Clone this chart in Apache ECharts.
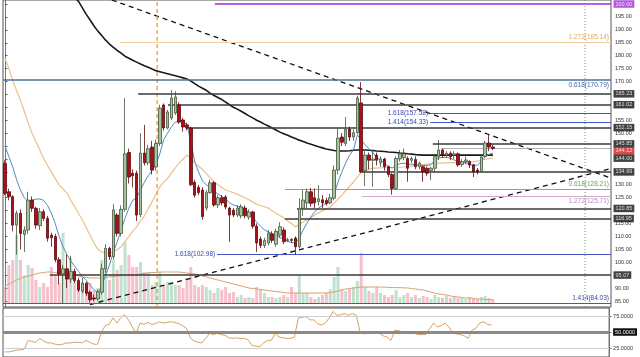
<!DOCTYPE html>
<html><head><meta charset="utf-8">
<script src="https://cdn.jsdelivr.net/npm/echarts/dist/echarts.min.js"></script>
<style>html,body{margin:0;padding:0;background:#fff}#c{width:640px;height:357px}</style>
</head><body><div id="c"></div>
<script>
// ---------- DATA ----------
const N = 157; // category slots (127 candles + empty space on the right)
// [open, high, low, close]
const ohlc = [
[138.3,139.5,126.0,126.7],[127.3,128.5,124.0,125.4],[125.4,126.0,112.0,114.4],[114.4,120.0,103.0,119.0],[119.0,120.5,105.0,111.2],
[110.8,114.0,104.0,112.5],[112.5,127.3,111.0,124.1],[124.1,125.5,119.5,120.9],[120.9,121.5,113.0,114.4],[114.2,121.0,112.5,119.6],
[119.6,120.5,116.0,117.0],[117.0,118.0,108.0,109.3],[110.5,111.5,106.0,109.5],[110.0,111.0,100.0,101.0],[101.0,102.0,91.5,95.5],
[95.5,99.0,84.0,97.5],[97.5,103.0,90.0,93.5],[93.5,102.5,92.0,96.5],[96.5,97.5,92.0,93.0],[93.0,94.0,88.5,89.3],
[88.8,94.0,88.0,91.9],[91.9,92.5,87.0,88.0],[88.4,89.0,84.5,85.5],[86.2,87.5,85.0,85.8],[85.8,89.5,85.2,88.6],
[88.4,99.5,87.5,97.5],[97.5,107.0,96.0,105.4],[105.4,106.0,101.0,102.2],[102.2,122.5,101.0,120.3],[118.3,119.0,110.0,111.2],
[111.2,122.0,110.0,120.5],[120.5,163.6,119.5,142.0],[142.5,144.0,130.5,133.0],[134.5,136.0,129.0,133.5],[134.5,135.5,116.0,118.3],
[118.5,150.0,117.5,142.3],[142.3,153.2,137.5,138.5],[138.5,145.5,137.5,144.0],[144.6,147.0,134.0,135.7],[136.9,147.5,135.5,146.0],
[146.0,161.0,145.0,159.7],[160.9,161.5,151.0,152.0],[152.0,159.0,151.5,158.2],[155.9,166.7,155.0,163.6],[157.8,166.2,157.0,164.0],
[160.9,162.0,153.5,154.3],[155.1,156.0,150.6,152.4],[153.2,154.0,151.0,152.0],[152.0,152.5,129.5,130.0],[131.0,132.0,125.0,126.0],
[129.0,130.0,126.0,127.0],[128.0,129.0,116.5,117.7],[121.0,128.0,120.0,127.0],[127.0,132.0,126.5,130.8],[130.8,131.5,121.5,122.2],
[122.2,126.0,121.0,125.0],[125.0,126.0,122.0,123.0],[125.3,126.0,120.5,121.4],[121.0,121.5,107.9,118.3],[120.2,121.0,117.5,118.3],
[118.3,122.0,117.5,121.0],[118.0,122.5,117.0,121.5],[121.0,122.0,117.0,118.0],[117.5,120.5,116.5,119.5],[119.5,120.0,113.0,114.0],
[114.0,115.0,104.0,107.5],[109.0,110.0,105.5,106.5],[106.5,109.5,105.5,108.5],[107.5,112.5,106.5,111.3],[111.0,112.0,107.5,108.5],
[107.0,113.0,106.0,112.0],[110.5,115.5,109.5,113.8],[112.5,113.5,107.0,108.0],[108.4,109.5,107.8,108.8],[108.8,109.3,107.5,108.5],
[109.4,110.0,102.9,106.0],[106.0,124.8,105.4,120.9],[120.9,128.0,118.0,124.1],[123.0,128.5,121.0,127.3],[127.3,128.8,121.5,122.8],
[125.0,128.6,121.0,123.0],[123.5,129.9,122.0,124.6],[124.2,126.0,121.0,123.0],[124.0,125.0,122.0,122.8],[123.0,126.5,122.5,125.0],
[124.8,137.5,124.0,135.7],[135.7,152.0,134.0,148.1],[148.5,150.0,145.0,146.5],[146.0,156.3,145.0,151.5],[151.5,152.5,147.0,148.5],
[148.5,151.5,147.0,150.2],[150.2,164.5,149.5,163.6],[161.7,169.8,134.5,135.0],[135.5,143.0,129.5,141.5],[141.5,142.5,136.0,139.5],
[139.5,143.5,129.2,140.0],[141.5,142.5,137.5,139.5],[138.5,141.0,137.0,140.0],[140.0,140.5,135.5,137.0],[137.0,137.5,133.0,134.0],
[134.0,134.5,126.2,128.6],[128.6,141.0,128.0,140.2],[140.0,143.5,139.0,142.0],[140.5,144.0,139.5,142.0],[140.2,141.0,131.2,136.4],
[139.5,141.0,138.5,140.2],[139.8,141.0,136.0,137.0],[137.0,139.0,136.0,138.3],[137.0,137.5,131.2,135.0],[136.4,137.0,133.5,134.5],
[135.5,137.0,131.8,136.4],[136.4,142.0,135.0,140.9],[140.9,147.3,139.5,143.5],[143.5,144.0,140.5,141.5],[141.5,143.0,140.5,142.2],
[142.2,143.0,139.5,140.9],[141.5,143.0,140.0,142.0],[142.0,142.5,137.0,137.7],[137.9,140.0,137.0,139.0],[139.0,141.0,138.0,139.6],
[139.0,139.5,136.5,137.7],[137.7,138.0,133.0,135.1],[135.7,136.5,134.0,135.1],[135.1,142.0,134.6,140.8],[141.0,147.0,140.5,146.2],
[146.2,149.3,143.0,144.6],[144.6,145.5,143.5,144.12]
];
const volume = [16,38,43,68,43,28,38,35,23,16,20,16,36,28,20,70,31,45,23,20,21,16,20,13,15,43,35,23,43,33,
38,61,48,36,36,41,31,31,18,21,31,18,21,21,18,18,15,25,36,18,16,18,16,13,10,15,13,16,10,11,
6,8,5,6,5,16,14,10,6,6,5,6,8,6,16,10,28,10,10,6,4,6,8,10,14,26,36,14,12,14,
16,22,50,16,12,10,16,10,8,6,8,13,6,8,10,6,8,5,7,6,4,8,6,5,7,5,6,5,5,4,
6,5,4,6,7,5,4];
const volumeMA = [17,19,21,23,24.5,26,27,28,29,30,30.5,31,31,30.5,30,30,29.5,29,28,27,26,25.5,25,25,25,25,25.5,26,26.5,27,
27.5,28,28,28,28.5,29,29.5,30,30.5,30.5,31,31,31,31,31,31,30.5,30,29.5,29,28,27,26,25,24,23,22,21,20,19,
18,17,16,15,14.5,14,13.5,13,12.5,12,11.5,11,10.5,10,10,10,10,10,10,10,10,10,10,10,10.5,11,12,13,14,14.5,
15,15.5,16,16,16,16,16,16,15.8,15.6,15.5,15.4,15.3,15.2,15,14.5,14,13.5,13,12,11,10,9,8.5,8,7,6.5,6,5.5,5,
5,4.5,4,4,3.5,3.5,3];
const emaFast = [145,141,137,132,128,125,123.5,124,124.5,124.5,124,122,119,115,110,106,103,100.5,98.5,96.5,
94.5,93,91,89.5,88,91,95,99,104,108,112.5,117,121,124,125,128,131,133.5,135.5,138,
142,147.5,150,152.5,154.3,154.5,154.3,153.5,146.5,139,135,131.5,130,129,127.5,126.5,125.5,124.5,123,122.2,
121.8,121.4,120.8,119,117.5,115.5,114,112.5,111.8,111,110.5,109.6,109,108.2,107.6,107.4,109.4,112.5,115.2,117.5,
119.6,121,122,122.8,123.5,126.5,131,135,138.5,141.5,143.5,149.3,147.5,145.5,144,142.5,140.5,139.6,138.5,137,
136.5,137.5,138.2,138.4,138,138,137.8,137.7,137.5,137.4,137.8,139.5,140.4,140.6,140.6,140.3,139.6,139,138.7,138.5,
137.8,137.7,137.5,139.0,140.8,141.8,142.3];
const maSlow = [179,175,170.5,166.5,162.8,158.5,154,150,146.8,143.5,140.2,137.5,135,132.4,130,128.4,126.8,124,121.5,119,
116.4,113.4,110.5,107.5,105,104,103.6,103.6,104,105,106,108,110,112,113.7,116,118,120.7,123.5,126.3,
129.2,131,132.5,134.6,136.6,138.5,140,141.5,140.5,138.4,137.2,136,134.3,132.7,131.1,130,129,128,127.5,127,
126.3,125.7,125,124.2,123.3,122.5,122,121.5,121,120,119,118.1,117.2,116,115,113.7,114.6,115.6,116.5,117.4,
118.3,119.2,120,120.7,121.4,123,124.5,126,127.7,129.4,131.1,133,135,135.5,136,136.5,136.5,136.6,136.6,136.7,
136.7,136.8,136.8,136.9,137.1,137.3,137.5,137.6,137.8,138,138.1,138.3,138.4,138.4,138.5,138.5,138.6,138.6,138.7,138.7,
138.8,139,139.2,139.5,139.8,140.1,140.4];
const sma200 = [null,null,null,null,null,null,null,null,null,null,null,null,null,null,null,null,null,null,202.5,201,
198.5,196,193.8,191.5,189.5,187.8,186,184.5,183.2,182,181,179.8,179,178.2,177.5,176.8,176.1,175.5,174.8,174.2,
173.8,173.4,173,172.6,172.2,171.8,171.4,171,170.2,169.2,168.2,167.4,166.6,165.5,164.6,163.8,163,162,161,160,
159.3,158.5,157.6,156.7,155.9,155,154.3,153.5,152.8,152,151.2,150.4,149.8,149.2,148.5,147.9,147.3,146.8,146.2,145.7,
145.2,144.7,144.3,143.9,143.6,143.3,143.1,143.1,143.1,143.2,143.4,143.5,143.5,143.5,143.4,143.3,143.1,143,142.9,142.7,
142.6,142.5,142.3,142.2,142,141.9,141.7,141.6,141.5,141.5,141.5,141.5,141.5,141.5,141.5,141.5,141.5,141.5,141.5,141.5,
141.5,141.5,141.5,141.5,141.5,141.5,141.5];
const rsi = [19,19,20,22,22,23,37,35,34,40,36,33,33,31,30,31,33,33,34,34,
33,37,34,31,31,50,60,62,72,64,72,77,69,58,48,64,62,65,62,63,
66,64,65,66,65,63,60,56,41,36,34,33,40,48,46,48,46,45,41,40,
41,40,40,38,29,28,27,33,37,37,48,42,41,40,40,42,72,73,74,69,
69,63,61,64,72,82,76,77,79,76,79,76,50,47,48,48,48,48,44,42,
37,53,52,50,50,48,48,46,46,46,55,64,58,60,64,58,48,47,46,44,
40,53,56,64,66,62,61];
const priceTickLabels = [85,90,100,105,110,115,125,130,150,155,170,175,180,185,190,195];
const priceTicks = [85,90,95,100,105,110,115,120,125,130,135,140,145,150,155,160,165,170,175,180,185,190,195,200];
const rsiTicks = [25,50,75];
// horizontal levels: price, first candle slot where the level starts
const levelPrice = [200,185.14,170.79,165.23,161.02,157.58,154.33,152.15,145.85,144.12,134.99,128.21,125.71,120.85,116.95,102.98,95.07,84.03];
const levelFrom  = [54.2,29.7,-0.5,34.4,42.1,109.8,109.8,47.0,110.5,112.6,92.2,72.3,92.2,75.4,72.3,54.8,11.6,-0.5];
const levelKind  = ['purple','tan','steel','dark','dark','blue','blue','dark','dark','last','dark','green','mauve','dark','dark','blue','dark','blue'];
const levelText  = ['', '1.272(185.14)', '0.618(170.79)', '', '', '1.618(157.58)', '1.414(154.33)', '', '', '', '', '0.618(128.21)', '1.272(125.71)', '', '', '1.618(102.98)', '', '1.414(84.03)'];
const tagPrice = [200,165.23,161.02,152.15,145.85,144.12,144.00,134.99,120.85,116.95,95.07];
const tagText  = ['200.00','165.23','161.02','152.15','145.85','144.12','144.00','134.99','120.85','116.95','95.07'];
// trend lines [slot, price] pairs
const trendDown = [[27.6,201.55],[156.5,132.6]];
const trendUp   = [[21.96,83.66],[156.5,136.3]];
const orangeSlot = 39.3;
const greenSlot = 149.8;

// ---------- STYLE ----------
const kindStyle = {
  purple:{c:'#9c2fd6',w:1.5}, tan:{c:'#f3cf9c',w:1}, steel:{c:'#4d7394',w:1.5}, dark:{c:'#3a3a3a',w:1.5},
  blue:{c:'#4455c4',w:1}, green:{c:'#7ab56a',w:1}, mauve:{c:'#d2a9cf',w:1}, last:{c:'#9a9a9a',w:0.8}
};
const labelColor = {tan:'#e0a860', steel:'#3f62b0', blue:'#3a46b4', green:'#6aa85a', mauve:'#b88ab6'};
const labelPos = {185.14:'insideEndTop',170.79:'insideEndBottom',157.58:'start',154.33:'start',128.21:'insideEndTop',125.71:'insideEndBottom',102.98:'start',84.03:'insideEndTop'};
const tagBg = {'200.00':'#9c2fd6','144.12':'#d41a1a'};
const tagOffset = {'144.12':[0,2.5],'144.00':[0,9.5]};

const cats = Array.from({length:N},(_,i)=>String(i));
const pad = a => a.concat(Array(N-a.length).fill(null));
const candleData = pad(ohlc.map(d=>[d[0],d[3],d[2],d[1]])).map(v=>v===null?'-':v);
const volData = pad(volume.map((v,i)=>({value:v,itemStyle:{color: ohlc[i][3]>=ohlc[i][0] ? 'rgba(150,205,175,0.6)' : 'rgba(238,150,168,0.6)'}})));

const markLines = [];
levelPrice.forEach((p,k)=>{
  const st = kindStyle[levelKind[k]];
  const item = [{coord:[levelFrom[k],p], lineStyle:{color:st.c,width:st.w,type:'solid'}}, {coord:[N-0.5,p]}];
  if (levelText[k]) {
    item[0].label = {show:true, formatter:levelText[k], position:labelPos[p], color:labelColor[levelKind[k]], fontSize:6.5, fontFamily:'Liberation Sans, Arial', distance:2};
  } else item[0].label = {show:false};
  markLines.push(item);
});

const tagData = tagPrice.map((p,k)=>({
  value:[N-0.5,p],
  label:{show:true, position:'right', distance:2, formatter:tagText[k], color:'#fff', fontSize:5.5, fontFamily:'Liberation Sans, Arial',
    backgroundColor: tagBg[tagText[k]] || '#111', padding:[1,2,0.5,2], offset: tagOffset[tagText[k]] || [0,0]}
}));

const seg = (pts, color, width, type, z) => ({type:'line', xAxisIndex:1, yAxisIndex:0, data:pts, showSymbol:false, symbol:'none',
  silent:true, z:z||2, lineStyle:{color:color, width:width, type:type}});

const chart = echarts.init(document.getElementById('c'), null, {renderer:'canvas'});
const axFont = {fontSize:5.5, color:'#333', fontFamily:'Liberation Sans, Arial'};
chart.setOption({
  animation:false,
  backgroundColor:'#fff',
  grid:[
    {left:3, top:0, width:608, height:307, show:true, borderColor:'#555', borderWidth:1, backgroundColor:'transparent'},
    {left:3, top:203, width:608, height:100},
    {left:3, top:308, width:608, height:49, show:true, borderColor:'#555', borderWidth:1}
  ],
  xAxis:[
    {type:'category', gridIndex:0, data:cats, boundaryGap:true, show:false},
    {type:'value', gridIndex:0, min:-0.5, max:N-0.5, show:false},
    {type:'category', gridIndex:1, data:cats, boundaryGap:true, show:false},
    {type:'category', gridIndex:2, data:cats, boundaryGap:true, show:false}
  ],
  yAxis:[
    {type:'value', gridIndex:0, position:'right', min:82.7, max:201.55, splitLine:{show:false},
     axisLine:{show:true, lineStyle:{color:'#777'}},
     axisTick:{show:true, length:2.5, customValues:priceTicks, lineStyle:{color:'#555'}},
     axisLabel:Object.assign({customValues:priceTickLabels, margin:4, formatter:v=>v.toFixed(2)}, axFont)},
    {type:'value', gridIndex:1, min:0, max:100, show:false},
    {type:'value', gridIndex:2, position:'right', min:11, max:87.5,
     splitLine:{show:false}, axisLine:{show:true, lineStyle:{color:'#777'}},
     axisTick:{show:true, length:2.5, customValues:rsiTicks},
     axisLabel:Object.assign({customValues:rsiTicks, margin:4,
       formatter:v=> v===50 ? '{b|50.0000}' : v.toFixed(4),
       rich:{b:{backgroundColor:'#111', color:'#fff', fontSize:5.5, padding:[1,2,0.5,2]}}}, axFont)}
  ],
  series:[
    {type:'bar', xAxisIndex:2, yAxisIndex:1, data:volData, barWidth:3},
    {type:'line', xAxisIndex:2, yAxisIndex:1, data:pad(volumeMA), showSymbol:false, lineStyle:{color:'#dca070', width:1}},
    {type:'line', xAxisIndex:1, yAxisIndex:0, data:[], markLine:{silent:true, symbol:['none','none'], data:markLines}},
    seg([[orangeSlot,82.7],[orangeSlot,201.55]], '#f59a2a', 1.3, [4,3], 4),
    seg([[greenSlot,82.7],[greenSlot,201.55]], '#4fae45', 1, [1,2]),
    seg(trendDown, '#111', 1.3, [5,4], 3),
    seg(trendUp, '#111', 1.3, [5,4], 3),
    {type:'line', xAxisIndex:0, yAxisIndex:0, data:pad(sma200), showSymbol:false, lineStyle:{color:'#1a1a1a', width:1.6}},
    {type:'line', xAxisIndex:0, yAxisIndex:0, data:pad(maSlow), showSymbol:false, lineStyle:{color:'#ecc08a', width:1.2}},
    {type:'line', xAxisIndex:0, yAxisIndex:0, data:pad(emaFast), showSymbol:false, lineStyle:{color:'#4f8cbd', width:1}},
    {type:'candlestick', xAxisIndex:0, yAxisIndex:0, data:candleData, barWidth:3, z:5,
     itemStyle:{color:'#a7c39d', color0:'#a8101c', borderColor:'#46553f', borderColor0:'#5c0a0d', borderWidth:0.8}},
    {type:'scatter', xAxisIndex:1, yAxisIndex:0, data:tagData, symbolSize:1, clip:false, itemStyle:{color:'rgba(0,0,0,0)'}, z:10},
    {type:'line', xAxisIndex:3, yAxisIndex:2, data:[], markLine:{silent:true, symbol:['none','none'], label:{show:false},
      data:[{yAxis:75, lineStyle:{color:'#cfcfcf', width:1, type:'solid'}},{yAxis:25, lineStyle:{color:'#cfcfcf', width:1, type:'solid'}},{yAxis:50, lineStyle:{color:'#8a8a8a', width:3, type:'solid'}}]}},
    {type:'line', xAxisIndex:3, yAxisIndex:2, data:pad(rsi), showSymbol:false, lineStyle:{color:'#d6a262', width:1}}
  ]
});
</script></body></html>
